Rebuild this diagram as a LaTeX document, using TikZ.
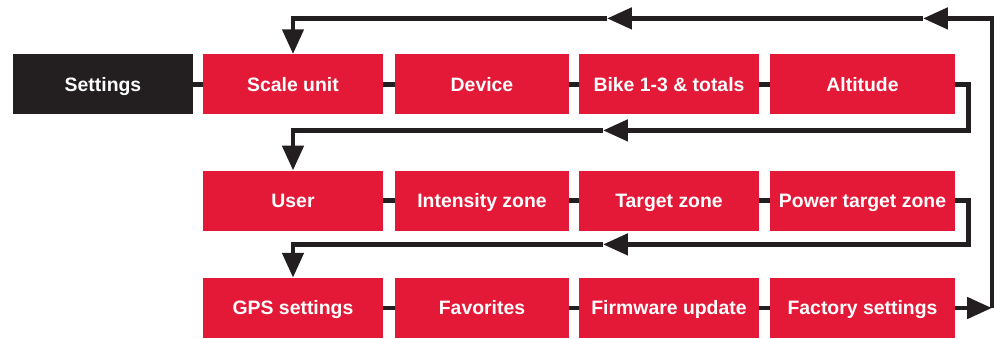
\documentclass[tikz,border=0pt]{standalone}
\usepackage{fontspec}
\setmainfont{Liberation Sans}
\usetikzlibrary{arrows.meta}
\definecolor{menured}{HTML}{E31937}
\definecolor{menublack}{HTML}{231F20}
\tikzset{
  item/.style={fill=menured,text=white,font=\bfseries\fontsize{13.8}{16}\selectfont,
    minimum height=1.5cm,inner sep=0pt,text height=9.9pt,text depth=0pt},
  root/.style={item,fill=menublack},
  link/.style={draw=menublack,line width=3.5pt},
  flow/.style={link,-{Triangle[length=0.62cm,width=0.52cm]}},
}
\begin{document}
\begin{tikzpicture}
  \useasboundingbox (0,0) rectangle (24.875,8.45);
  % first row
  \node[root,minimum width=4.5cm] (settings) at (2.575,6.34) {Settings};
  \node[item,minimum width=4.5cm] (scale) at (7.325,6.34) {Scale unit};
  \node[item,minimum width=4.35cm] (device) at (12.05,6.34) {Device};
  \node[item,minimum width=4.5cm] (bike) at (16.725,6.34) {Bike 1-3 \& totals};
  \node[item,minimum width=4.625cm] (altitude) at (21.5625,6.34) {Altitude};
  % second row
  \node[item,minimum width=4.5cm] (user) at (7.325,3.43) {User};
  \node[item,minimum width=4.35cm] (intensity) at (12.05,3.43) {Intensity zone};
  \node[item,minimum width=4.5cm] (target) at (16.725,3.43) {Target zone};
  \node[item,minimum width=4.625cm] (power) at (21.5625,3.43) {Power target zone};
  % third row
  \node[item,minimum width=4.5cm] (gps) at (7.325,0.75) {GPS settings};
  \node[item,minimum width=4.35cm] (favorites) at (12.05,0.75) {Favorites};
  \node[item,minimum width=4.5cm] (firmware) at (16.725,0.75) {Firmware update};
  \node[item,minimum width=4.625cm] (factory) at (21.5625,0.75) {Factory settings};
  % links inside the rows
  \draw[link] (settings) -- (scale);
  \draw[link] (scale) -- (device);
  \draw[link] (device) -- (bike);
  \draw[link] (bike) -- (altitude);
  \draw[link] (user) -- (intensity);
  \draw[link] (intensity) -- (target);
  \draw[link] (target) -- (power);
  \draw[link] (gps) -- (favorites);
  \draw[link] (favorites) -- (firmware);
  \draw[link] (firmware) -- (factory);
  % turn corners
  \coordinate (botR) at (24.8,0.75);
  \coordinate (topR) at (24.8,7.99);
  \coordinate (topA) at (23.075,7.99);
  \coordinate (topB) at (15.175,7.99);
  \coordinate (topL) at (7.325,7.99);
  \coordinate (r1R) at (24.21,5.19);
  \coordinate (r1M) at (15.075,5.19);
  \coordinate (r1L) at (7.325,5.19);
  \coordinate (r2R) at (24.21,2.34);
  \coordinate (r2M) at (15.075,2.34);
  \coordinate (r2L) at (7.325,2.34);
  % back to the start
  \draw[flow] (factory) -- (botR);
  \draw[flow] (botR) -- (topR) -- (topA);
  \draw[flow] (topA) -- (topB);
  \draw[flow] (topB) -- (topL) -- (scale);
  % row to row
  \draw[flow] (altitude) -| (r1R) -- (r1M);
  \draw[flow] (r1M) -- (r1L) -- (user);
  \draw[flow] (power) -| (r2R) -- (r2M);
  \draw[flow] (r2M) -- (r2L) -- (gps);
\end{tikzpicture}
\end{document}
